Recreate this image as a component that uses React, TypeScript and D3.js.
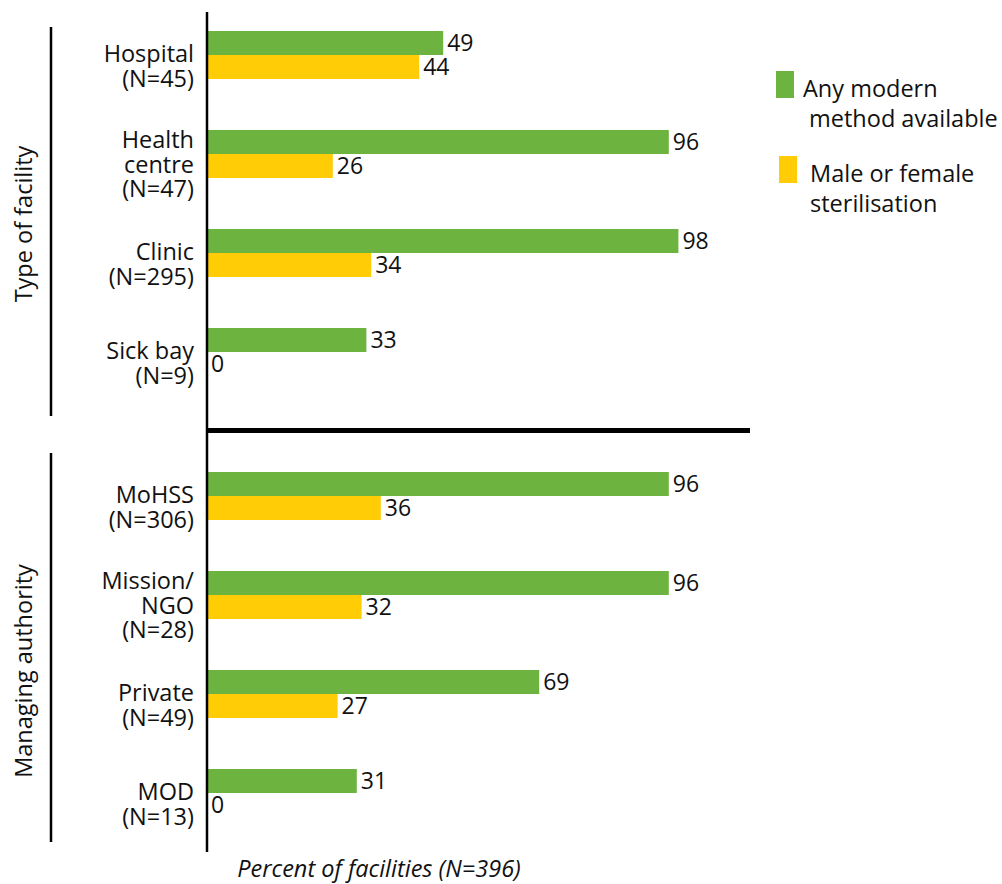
import React from "react";
import * as d3 from "d3";

// data
const facilityTypes = ["Hospital", "Health centre", "Clinic", "Sick bay"];
const facilityLabels = [
  ["Hospital", "(N=45)"],
  ["Health", "centre", "(N=47)"],
  ["Clinic", "(N=295)"],
  ["Sick bay", "(N=9)"],
];
const facilityAnyModern = [49, 96, 98, 33];
const facilitySterilisation = [44, 26, 34, 0];

const authorities = ["MoHSS", "Mission/NGO", "Private", "MOD"];
const authorityLabels = [
  ["MoHSS", "(N=306)"],
  ["Mission/", "NGO", "(N=28)"],
  ["Private", "(N=49)"],
  ["MOD", "(N=13)"],
];
const authorityAnyModern = [96, 96, 69, 31];
const authoritySterilisation = [36, 32, 27, 0];

const seriesKeys = ["any", "ster"];
const seriesNames = [["Any modern", "method available"], ["Male or female", "sterilisation"]];
const colors = { any: "#6db33f", ster: "#ffcc05" };

const W = 1002;
const H = 884;
const FONT = "'Open Sans', sans-serif";

const x = d3.scaleLinear().domain([0, 100]).range([208, 688]);
const sub = d3.scaleBand().domain(seriesKeys).range([0, 48]);

const panels = [
  {
    title: "Type of facility",
    cats: facilityTypes,
    labels: facilityLabels,
    any: facilityAnyModern,
    ster: facilitySterilisation,
    top: 5.5,
    bracket: [27, 416],
    titleY: 224,
  },
  {
    title: "Managing authority",
    cats: authorities,
    labels: authorityLabels,
    any: authorityAnyModern,
    ster: authoritySterilisation,
    top: 446.5,
    bracket: [453, 842],
    titleY: 671,
  },
];

const Panel = ({ p }) => {
  const y = d3
    .scaleBand()
    .domain(p.cats)
    .range([p.top, p.top + 4 * 99])
    .paddingInner(0.515)
    .paddingOuter(0.2575);

  return (
    <g>
      <line x1={51} x2={51} y1={p.bracket[0]} y2={p.bracket[1]} stroke="#000" strokeWidth={2.5} />
      <text
        transform={`translate(32,${p.titleY}) rotate(-90)`}
        textAnchor="middle"
        fontSize={23.5}
        fontFamily={FONT}
        fill="#111"
      >
        {p.title}
      </text>
      {p.cats.map((c, i) => {
        const y0 = y(c);
        const center = y0 + y.bandwidth() / 2;
        const lines = p.labels[i];
        const first = center + 7 - (lines.length - 2) * 13;
        const vals = { any: p.any[i], ster: p.ster[i] };
        return (
          <g key={c}>
            <text textAnchor="end" fontSize={23.5} fontFamily={FONT} fill="#111">
              {lines.map((l, j) => (
                <tspan key={j} x={194} y={first + j * 24.5}>
                  {l}
                </tspan>
              ))}
            </text>
            {seriesKeys.map((k) => {
              const v = vals[k];
              const by = y0 + sub(k);
              return (
                <g key={k}>
                  <rect x={x(0)} y={by} width={x(v) - x(0)} height={sub.bandwidth()} fill={colors[k]} />
                  <text
                    x={x(v) + (v === 0 ? 3 : 4)}
                    y={by + sub.bandwidth() / 2 + 8}
                    fontSize={23}
                    fontFamily={FONT}
                    fill="#111"
                  >
                    {v}
                  </text>
                </g>
              );
            })}
          </g>
        );
      })}
    </g>
  );
};

export default function App() {
  return (
    <svg
      width={W}
      height={H}
      style={{ position: "absolute", left: 0, top: 0, background: "#fff" }}
    >
      {panels.map((p) => (
        <Panel key={p.title} p={p} />
      ))}
      {/* axis and separator */}
      <line x1={207} x2={207} y1={12} y2={852} stroke="#000" strokeWidth={2.5} />
      <line x1={207} x2={750} y1={430.5} y2={430.5} stroke="#000" strokeWidth={5} />

      {/* legend */}
      {seriesKeys.map((k, i) => {
        const ly = i === 0 ? 71 : 156;
        const lx = i === 0 ? 776 : 779;
        return (
          <g key={k}>
            <rect x={lx} y={ly} width={18} height={27} fill={colors[k]} />
            <text fontSize={23.5} fontFamily={FONT} fill="#111">
              <tspan x={i === 0 ? 803 : 810} y={ly + 26}>
                {seriesNames[i][0]}
              </tspan>
              <tspan x={i === 0 ? 809 : 810} y={ly + 56}>
                {seriesNames[i][1]}
              </tspan>
            </text>
          </g>
        );
      })}

      <text
        x={379}
        y={877}
        textAnchor="middle"
        fontSize={23.5}
        fontStyle="italic"
        fontFamily={FONT}
        fill="#111"
      >
        Percent of facilities (N=396)
      </text>
    </svg>
  );
}
